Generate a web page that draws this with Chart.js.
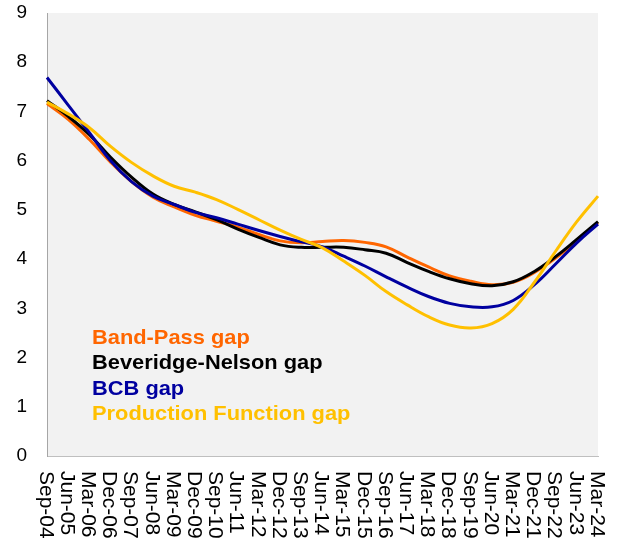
<!DOCTYPE html>
<html>
<head>
<meta charset="utf-8">
<script src="https://cdn.jsdelivr.net/npm/chart.js@4/dist/chart.umd.min.js"></script>
<style>
  html, body { margin: 0; padding: 0; background: #ffffff; }
  #wrap { width: 618px; height: 545px; position: relative; }
</style>
</head>
<body>
<div id="wrap"><canvas id="gaps"></canvas></div>
<script>
// Quarter labels shown on the horizontal axis (every third quarter)
const quarters = [
  'Sep-04','Jun-05','Mar-06','Dec-06','Sep-07','Jun-08','Mar-09','Dec-09','Sep-10',
  'Jun-11','Mar-12','Dec-12','Sep-13','Jun-14','Mar-15','Dec-15','Sep-16','Jun-17',
  'Mar-18','Dec-18','Sep-19','Jun-20','Mar-21','Dec-21','Sep-22','Jun-23','Mar-24'
];

// Series values
const bandPass = [
  7.16, 6.84, 6.43, 5.97, 5.57, 5.26, 5.06, 4.89, 4.77, 4.65, 4.50, 4.37, 4.33, 4.36,
  4.38, 4.34, 4.25, 4.04, 3.84, 3.66, 3.55, 3.48, 3.53, 3.73, 4.02, 4.38, 4.74
];
const beveridgeNelson = [
  7.22, 6.90, 6.53, 6.07, 5.66, 5.32, 5.11, 4.96, 4.80, 4.61, 4.44, 4.29, 4.24, 4.24,
  4.24, 4.19, 4.12, 3.93, 3.75, 3.60, 3.50, 3.46, 3.54, 3.75, 4.05, 4.40, 4.76
];
const bcb = [
  7.69, 7.13, 6.57, 6.00, 5.57, 5.28, 5.11, 4.95, 4.84, 4.71, 4.58, 4.46, 4.35, 4.25,
  4.06, 3.86, 3.64, 3.43, 3.24, 3.10, 3.03, 3.03, 3.16, 3.48, 3.90, 4.33, 4.71
];
const productionFunction = [
  7.19, 6.95, 6.67, 6.29, 5.96, 5.69, 5.48, 5.36, 5.21, 5.01, 4.80, 4.59, 4.40, 4.23,
  3.96, 3.67, 3.34, 3.07, 2.83, 2.66, 2.60, 2.69, 2.98, 3.53, 4.16, 4.76, 5.28
];

// Vertical axis ticks
const yTicks = [0, 1, 2, 3, 4, 5, 6, 7, 8, 9];

const seriesNames = ['Band-Pass gap', 'Beveridge-Nelson gap', 'BCB gap', 'Production Function gap'];
const seriesColors = ['#FF6600', '#000000', '#0000A0', '#FFC000'];

const FONT = '"Liberation Sans", Arial, Helvetica, sans-serif';

// Grey panel behind the plot area
const panelFill = {
  id: 'panelFill',
  beforeDraw(chart) {
    const { ctx, chartArea: a } = chart;
    ctx.save();
    ctx.fillStyle = '#F2F2F2';
    ctx.fillRect(a.left, a.top, a.right - a.left, a.bottom - a.top);
    ctx.restore();
  }
};

// Quarter labels turned a quarter-turn clockwise, reading downwards
const quarterLabels = {
  id: 'quarterLabels',
  afterDraw(chart) {
    const { ctx, chartArea: a } = chart;
    const xs = chart.scales.x;
    ctx.save();
    ctx.fillStyle = '#000000';
    ctx.font = '21px ' + FONT;
    ctx.textAlign = 'left';
    ctx.textBaseline = 'middle';
    quarters.forEach((q, i) => {
      const px = xs.getPixelForValue(i);
      ctx.save();
      ctx.translate(px - 1.5, a.bottom + 15);
      ctx.rotate(Math.PI / 2);
      ctx.fillText(q, 0, 0);
      ctx.restore();
    });
    ctx.restore();
  }
};

// Coloured series names inside the plot area (slightly widened lettering)
const seriesKey = {
  id: 'seriesKey',
  afterDraw(chart) {
    const { ctx, chartArea: a } = chart;
    ctx.save();
    ctx.font = 'bold 21px ' + FONT;
    ctx.textAlign = 'left';
    ctx.textBaseline = 'alphabetic';
    ctx.translate(a.left + 45, a.top + 331);
    ctx.scale(1.04, 1);
    seriesNames.forEach((name, i) => {
      ctx.fillStyle = seriesColors[i];
      ctx.fillText(name, 0, i * 25.4);
    });
    ctx.restore();
  }
};

const seriesData = [bandPass, beveridgeNelson, bcb, productionFunction];
const drawOrder = [3, 2, 1, 0];

new Chart(document.getElementById('gaps'), {
  type: 'line',
  data: {
    labels: quarters,
    datasets: seriesData.map((d, i) => ({
      label: seriesNames[i],
      data: d,
      borderColor: seriesColors[i],
      backgroundColor: seriesColors[i],
      borderWidth: 3,
      pointRadius: 0,
      tension: 0.4,
      fill: false,
      order: drawOrder[i]
    }))
  },
  options: {
    responsive: true,
    maintainAspectRatio: false,
    animation: false,
    layout: { padding: { top: 13, right: 20, left: 0, bottom: 0 } },
    plugins: {
      legend: { display: false },
      tooltip: { enabled: false }
    },
    scales: {
      x: {
        type: 'category',
        offset: false,
        grid: { display: false, drawTicks: false },
        border: { display: true, color: '#BFBFBF', width: 1 },
        ticks: { display: false },
        afterFit(scale) { scale.height = 89; }
      },
      y: {
        min: 0,
        max: 9,
        afterBuildTicks(scale) { scale.ticks = yTicks.map(v => ({ value: v })); },
        grid: { display: false, drawTicks: false },
        border: { display: true, color: '#A6A6A6', width: 1 },
        ticks: {
          color: '#000000',
          font: { family: FONT, size: 19 },
          padding: 20
        },
        afterFit(scale) {
          scale.width = 47;
          scale.paddingTop = 0;
          scale.paddingBottom = 0;
        }
      }
    }
  },
  plugins: [panelFill, quarterLabels, seriesKey]
});
</script>
</body>
</html>
